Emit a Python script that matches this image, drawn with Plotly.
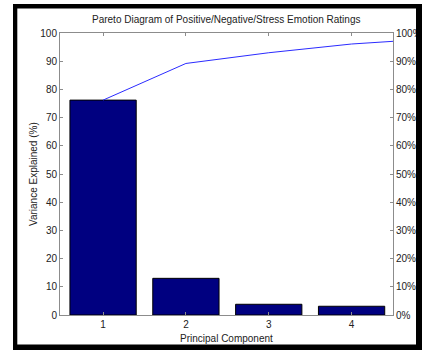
import plotly.graph_objects as go
import numpy as np

# Variance explained by each principal component (%)
components = [1, 2, 3, 4, 5]
variance = [76.2, 13.0, 3.8, 3.1, 1.9]
shown = 4  # components drawn as bars
cumulative = list(np.cumsum(variance))

y_ticks = list(range(0, 101, 10))
y2_labels = [f"{v}%" for v in y_ticks]

W, H = 422, 350
L, R, T, B = 60, 29, 33, 35
pw, ph = W - L - R, H - T - B

def px(x):
    return (x - L) / pw

def py(y):
    return (H - B - y) / ph

font = dict(family="Liberation Sans, Arial, sans-serif", size=10, color="#222222")
axis_col = "#8c8c8c"

fig = go.Figure()
fig.add_trace(go.Bar(
    x=components[:shown], y=variance[:shown], width=0.8,
    marker=dict(color="#000080", line=dict(color="#000000", width=1)),
    showlegend=False,
))
fig.add_trace(go.Scatter(
    x=components, y=cumulative, mode="lines", yaxis="y2",
    line=dict(color="#2b2bff", width=1), showlegend=False,
))

# heavy black frame around the figure
frame = [
    (13, 4, 422, 8.5),
    (13, 344.5, 422, 350),
    (13, 4, 17.3, 350),
    (416, 4, 422, 350),
]
shapes = [
    dict(type="rect", xref="paper", yref="paper",
         x0=px(a), x1=px(c), y0=py(d), y1=py(b),
         fillcolor="black", line=dict(width=0), layer="above")
    for a, b, c, d in frame
]

common = dict(showline=True, linecolor=axis_col, linewidth=1,
              ticks="inside", ticklen=3, tickcolor=axis_col,
              showgrid=False, zeroline=False, automargin=False)

def note(text, x, y, **kw):
    return dict(text=text, xref="paper", yref="paper", x=px(x), y=py(y),
                xanchor="center", yanchor="middle", showarrow=False,
                font=font, **kw)

fig.update_layout(
    width=W, height=H,
    margin=dict(l=L, r=R, t=T, b=B, autoexpand=False),
    paper_bgcolor="white", plot_bgcolor="white",
    font=font, shapes=shapes,
    xaxis=dict(range=[0.48, 4.5], tickvals=components[:shown],
               mirror="ticks", **common),
    yaxis=dict(range=[0, 100], tickvals=y_ticks, **common),
    yaxis2=dict(range=[0, 100], tickvals=y_ticks, ticktext=y2_labels,
                overlaying="y", side="right", **common),
    annotations=[
        note("Pareto Diagram of Positive/Negative/Stress Emotion Ratings", 226, 20),
        note("Principal Component", 226, 338),
        note("Variance Explained (%)", 33, 174, textangle=-90),
    ],
)

fig.write_html("out.html")
